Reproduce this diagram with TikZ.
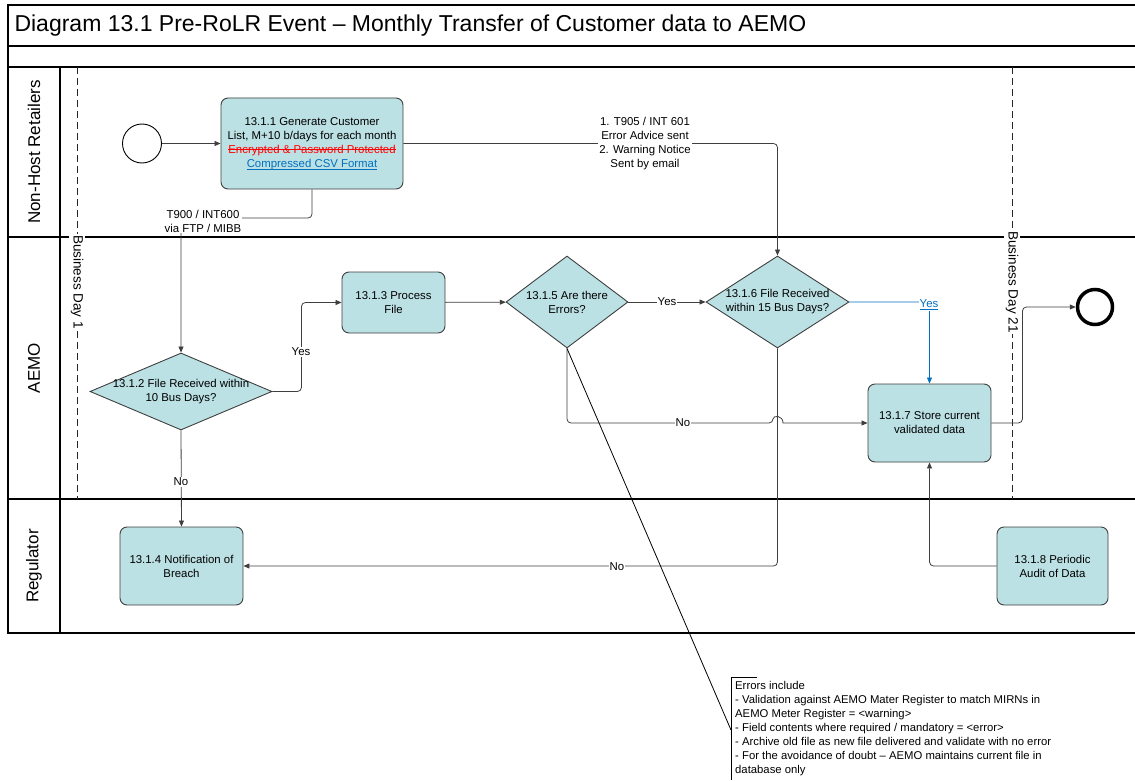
\documentclass[tikz,border=0pt]{standalone}
\usepackage{fontspec}
\setmainfont{Liberation Sans}
\usetikzlibrary{shapes.geometric,arrows.meta}
\definecolor{taskfill}{HTML}{BCE1E4}
\definecolor{taskdraw}{HTML}{3F3F3F}
\definecolor{linkblue}{HTML}{0070C0}
\newsavebox\markbox
\newcommand\strikeit[1]{\sbox\markbox{#1}\rlap{\rule[0.3em]{\wd\markbox}{0.7pt}}\usebox\markbox}
\newcommand\ulineit[1]{\sbox\markbox{#1}\rlap{\rule[-0.2em]{\wd\markbox}{0.6pt}}\usebox\markbox}

\begin{document}
\begin{tikzpicture}[
    x=1pt, y=-1pt, >={Triangle[length=6pt,width=5pt]},
    every node/.style={font=\fontsize{11.4}{14}\selectfont},
    task/.style={rectangle, draw=taskdraw, fill=taskfill, rounded corners=7pt, line width=0.9pt, align=center, inner sep=2pt},
    decision/.style={diamond, draw=taskdraw, fill=taskfill, line width=0.9pt, inner sep=0pt},
    dtext/.style={align=center, inner sep=0pt},
    flow/.style={->, draw=taskdraw, line width=0.8pt, rounded corners=4pt},
    lbl/.style={fill=white, inner sep=1pt, align=center},
    lanelbl/.style={rotate=90, font=\fontsize{17}{20}\selectfont},
    frame/.style={line width=1.3pt},
    dayline/.style={draw=black!85, line width=0.8pt, dash pattern=on 7pt off 4pt},
    daylbl/.style={rotate=-90, fill=white, inner sep=1.5pt, font=\fontsize{13.5}{15}\selectfont}
  ]
  \useasboundingbox (0,0) rectangle (1135,781);

  % Pool and lanes
  \draw[frame] (1135,5) -- (8,5) -- (8,633) -- (1135,633);
  \draw[frame] (8,46) -- (1135,46);
  \draw[frame] (8,67) -- (1135,67);
  \draw[frame] (8,237) -- (1135,237);
  \draw[frame] (8,499) -- (1135,499);
  \draw[frame] (60,67) -- (60,633);

  \node[anchor=west, font=\fontsize{23}{27}\selectfont] (title) at (11,26) {Diagram 13.1 Pre-RoLR Event – Monthly Transfer of Customer data to AEMO};

  \node[lanelbl] (laneNHR) at (34,152) {Non-Host Retailers};
  \node[lanelbl] (laneAEMO) at (34,368) {AEMO};
  \node[lanelbl] (laneReg) at (34,566) {Regulator};

  % Business day markers
  \coordinate (day1top) at (77,67);
  \coordinate (day1bot) at (77,499);
  \coordinate (day21top) at (1012,67);
  \coordinate (day21bot) at (1012,499);
  \draw[dayline] (day1top) -- (day1bot);
  \draw[dayline] (day21top) -- (day21bot);
  \node[daylbl] (day1) at (77,282) {Business Day 1};
  \node[daylbl] (day21) at (1012,282) {Business Day 21};

  % Events
  \node[circle, draw=black, line width=0.9pt, minimum size=39pt, inner sep=0pt] (start) at (142,143.5) {};
  \node[circle, draw=black, line width=3.5pt, minimum size=35pt, inner sep=0pt] (stop) at (1095,307) {};

  % Tasks
  \node[task, minimum width=182pt, minimum height=91pt] (t1) at (312,143.5) {13.1.1 Generate Customer\\List, M+10 b/days for each month\\\textcolor{red}{\strikeit{Encrypted \& Password Protected}}\\\textcolor{linkblue}{\ulineit{Compressed CSV Format}}};
  \node[task, minimum width=103pt, minimum height=61pt] (t3) at (393.5,302.5) {13.1.3 Process\\File};
  \node[task, minimum width=123pt, minimum height=78pt] (t4) at (181.5,566) {13.1.4 Notification of\\Breach};
  \node[task, minimum width=123pt, minimum height=78pt] (t7) at (929.5,423) {13.1.7 Store current\\validated data};
  \node[task, minimum width=111pt, minimum height=78pt] (t8) at (1052.5,566) {13.1.8 Periodic\\Audit of Data};

  % Decisions
  \node[decision, minimum width=182pt, minimum height=77pt] (q2) at (181,391.5) {};
  \node[dtext] (q2txt) at (q2) {13.1.2 File Received within\\10 Bus Days?};
  \node[decision, minimum width=122pt, minimum height=92pt] (q5) at (567,302) {};
  \node[dtext] (q5txt) at (q5) {13.1.5 Are there\\Errors?};
  \node[decision, minimum width=143pt, minimum height=92pt] (q6) at (777.5,302) {};
  \node[dtext] (q6txt) at (q6) {13.1.6 File Received\\within 15 Bus Days?};

  % Flows
  \draw[flow] (start) -- (t1);
  \coordinate (bend1) at (181,218);
  \draw[flow] (t1.south) |- (bend1) -- (q2.north);
  \node[lbl] (lblT900) at (203,221) {T900 / INT600\\via FTP / MIBB};
  \draw[flow] (t1.east) -| (q6.north);
  \node[lbl] (lblT905) at (645,144) {1. T905 / INT 601\\Error Advice sent\\2. Warning Notice\\Sent by email};
  \draw[flow] (q2.east) -- ++(29,0) |- (t3.west);
  \node[lbl] (lblYes2) at (301,352) {Yes};
  \draw[flow] (q2.south) -- (t4.north);
  \node[lbl] (lblNo2) at (181,482) {No};
  \draw[flow] (t3) -- (q5);
  \draw[flow] (q5) -- (q6);
  \node[lbl] (lblYes5) at (667,302) {Yes};
  \coordinate (hopL) at (773,423);
  \coordinate (hopR) at (783,423);
  \draw[flow] (q5.south) |- (hopL) [sharp corners] .. controls +(0,-8) and +(0,-8) .. (hopR) -- (t7.west);
  \node[lbl] (lblNo5) at (683,423) {No};
  \draw[flow, draw=linkblue] (q6.east) -| (t7.north);
  \node[lbl, text=linkblue] (lblYes6) at (929,305) {\ulineit{Yes}};
  \draw[flow] (q6.south) |- (t4.east);
  \node[lbl] (lblNo6) at (617,567) {No};
  \draw[flow] (t7.east) -- ++(31,0) |- (stop.west);
  \draw[flow] (t8.west) -| (t7.south);

  % Annotation
  \node[anchor=north west, align=left, inner sep=4pt, font=\fontsize{11.3}{14}\selectfont] (errnote) at (731,677) {Errors include\\- Validation against AEMO Mater Register to match MIRNs in\\AEMO Meter Register = <warning>\\- Field contents where required / mandatory = <error>\\- Archive old file as new file delivered and validate with no error\\- For the avoidance of doubt – AEMO maintains current file in\\database only};
  \draw[line width=0.8pt] ([xshift=26pt]errnote.north west) -- (errnote.north west) -- (errnote.south west);
  \coordinate (notetip) at (731,730);
  \draw[line width=0.8pt] (q5.south) -- (notetip);
\end{tikzpicture}
\end{document}
